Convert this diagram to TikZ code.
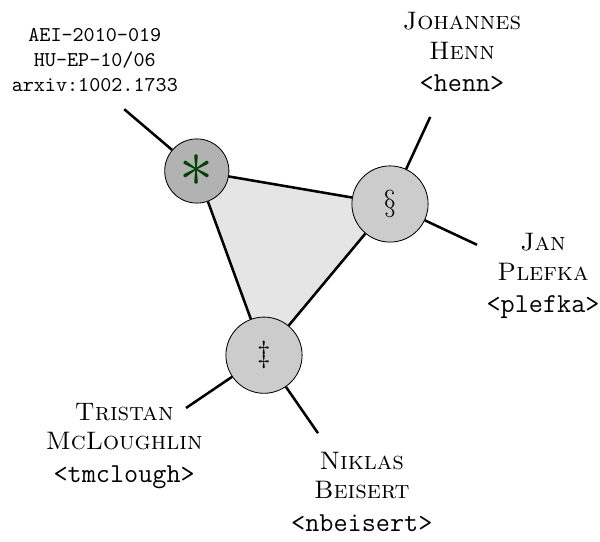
\documentclass[tikz,border=0pt]{standalone}
\usepackage{graphicx}
\usetikzlibrary{backgrounds}
\newcommand\mailfont{\fontsize{13}{15.5}\selectfont\ttfamily}
\begin{document}
\begin{tikzpicture}[
    blob/.style={circle,draw,fill=black!20,minimum size=1.27cm,inner sep=0pt},
    spoke/.style={very thick},
    author/.style={align=center,font=\large},
  ]
    \useasboundingbox (0,0) rectangle (10,-9.033);
    % corners of the triangle
    \node[blob,fill=black!30,minimum size=1.07cm] (ast) at (3.28,-2.85) {\color{green!25!black}\scalebox{1.3}{\Huge$\ast$}};
    \node[blob] (sec) at (6.5,-3.4) {\Large$\S$};
    \node[blob] (ddag) at (4.4,-5.92) {\Large$\ddag$};
    \begin{scope}[on background layer]
        \fill[black!10] (ast.center) -- (sec.center) -- (ddag.center) -- cycle;
    \end{scope}
    \draw[spoke] (ast) -- (sec) -- (ddag) -- (ast);
    % free ends of the spokes
    \coordinate (pnum) at (2.07,-1.82);
    \coordinate (phenn) at (7.17,-1.95);
    \coordinate (pplefka) at (7.95,-4.08);
    \coordinate (ptris) at (3.1,-6.8);
    \coordinate (pnik) at (5.3,-7.22);
    \foreach \a/\b in {ast/pnum,sec/phenn,sec/pplefka,ddag/ptris,ddag/pnik}
        \draw[spoke] (\a) -- (\b);
    % labels
    \node[align=center,font=\ttfamily] (num) at (1.58,-1.0) {AEI-2010-019\\HU-EP-10/06\\arxiv:1002.1733};
    \node[author] (henn) at (7.7,-0.87) {\textsc{Johannes}\\\textsc{Henn}\\[1.5pt]{\mailfont <henn>}};
    \node[author] (plefka) at (9.05,-4.6) {\textsc{Jan}\\\textsc{Plefka}\\[1.5pt]{\mailfont <plefka>}};
    \node[author] (tris) at (2.07,-7.43) {\textsc{Tristan}\\\textsc{McLoughlin}\\[1.5pt]{\mailfont <tmclough>}};
    \node[author] (nik) at (6.03,-8.2) {\textsc{Niklas}\\\textsc{Beisert}\\[1.5pt]{\mailfont <nbeisert>}};
\end{tikzpicture}
\end{document}
